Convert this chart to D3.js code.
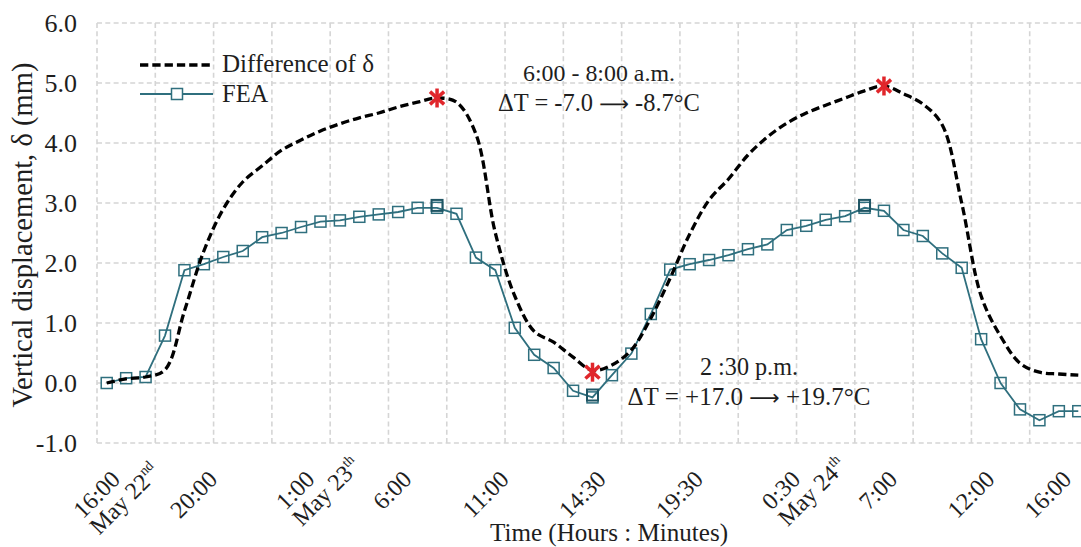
<!DOCTYPE html>
<html><head><meta charset="utf-8">
<script src="https://cdn.jsdelivr.net/npm/d3@7"></script>
<style>
html,body{margin:0;padding:0;background:#fff;}
svg{display:block;}
svg text{font-family:"Liberation Serif","Times New Roman","DejaVu Serif",serif;}
</style></head>
<body>
<svg id="chart" width="1081" height="547"></svg>
<script>
// ---- data ----
const categories = d3.range(51);
const tickIndex = [0,5,10,15,20,25,30,35,40,45,50];
const tickLine1 = ["16:00","20:00","1:00","6:00","11:00","14:30","19:30","0:30","7:00","12:00","16:00"];
const tickLine2 = ["May 22","","May 23","","","","","May 24","","","",""];
const tickSup   = ["nd","","th","","","","","th","","","",""];
const yTicks = [-1,0,1,2,3,4,5,6];
const feaValues = [0.0,0.08,0.1,0.79,1.88,1.98,2.1,2.2,2.43,2.5,
  2.6,2.69,2.71,2.77,2.81,2.85,2.92,2.92,2.82,2.09,
  1.88,0.92,0.47,0.25,-0.13,-0.24,0.13,0.49,1.15,1.89,
  1.98,2.05,2.13,2.23,2.31,2.55,2.62,2.72,2.78,2.92,
  2.87,2.55,2.45,2.16,1.92,0.73,0.0,-0.44,-0.62,-0.47,-0.47];
const diffValues = [0.0,0.07,0.1,0.22,1.2,2.2,2.9,3.35,3.62,3.88,
  4.05,4.2,4.32,4.42,4.5,4.6,4.68,4.75,4.68,4.15,
  2.5,1.45,0.86,0.68,0.43,0.21,0.3,0.55,1.08,1.75,
  2.48,3.05,3.4,3.8,4.1,4.33,4.5,4.63,4.75,4.87,
  4.95,4.82,4.65,4.3,3.0,1.45,0.78,0.33,0.18,0.15,0.13];
const peakIndex = [17,25,39];
const peakValues = [2.96,-0.2,2.96];
const starIndex = [17,25,40];
const starValues = [4.75,0.18,4.95];
const notes = [
  ["6:00 - 8:00 a.m."],
  ["ΔT = -7.0 ", "⟶", " -8.7°C"],
  ["2 :30 p.m."],
  ["ΔT = +17.0 ", "⟶", " +19.7°C"]
];

// ---- setup ----
const FONT = "'Liberation Serif','Times New Roman','DejaVu Serif',serif";
const TXT = "#1e1e1e";
const svg = d3.select("#chart");
const pLeft = 97, pRight = 1088, pTop = 23, pBottom = 443;
const x = d3.scaleBand().domain(categories).range([pLeft,pRight]).padding(0);
const xc = i => x(i) + x.bandwidth()/2;
const y = d3.scaleLinear().domain([-1,6]).range([pBottom,pTop]);

function fit(sel, target){
  const fs = parseFloat(sel.attr("font-size"));
  const w = sel.node().getComputedTextLength();
  if (w>0) sel.attr("font-size", (fs*target/w).toFixed(2));
  return sel;
}

const teal = "#2f6f7e";
const gridCol = "#d5d5d5";

// grid
const g = svg.append("g");
g.selectAll(".hg").data(yTicks).join("line")
  .attr("x1",pLeft).attr("x2",pRight).attr("y1",d=>y(d)).attr("y2",d=>y(d))
  .attr("stroke",gridCol).attr("stroke-width",1.6).attr("stroke-dasharray","5,3.3");
const vIdx = d3.range(0,52,3);
g.selectAll(".vg").data(vIdx).join("line")
  .attr("x1",d=> d<51 ? x(d) : pRight).attr("x2",d=> d<51 ? x(d) : pRight)
  .attr("y1",pTop).attr("y2",pBottom)
  .attr("stroke",gridCol).attr("stroke-width",1.6).attr("stroke-dasharray","5,3.3");

// y axis
const yAxis = d3.axisLeft(y).tickValues(yTicks).tickFormat(d=>d.toFixed(1)).tickSize(0).tickPadding(0);
const ya = svg.append("g").attr("transform",`translate(77,0)`).call(yAxis);
ya.attr("font-family",FONT).attr("font-size",26);
ya.select(".domain").remove();
ya.selectAll("text").attr("font-family",FONT).attr("font-size",26).attr("fill",TXT).attr("dy","0.34em");

fit(svg.append("text").attr("transform",`translate(32,235) rotate(-90)`)
  .attr("text-anchor","middle").attr("font-size",26).attr("font-family",FONT).attr("fill",TXT)
  .text("Vertical displacement, δ (mm)"), 345);

// x tick labels
const XFS = 24;
const xl = svg.append("g");
tickIndex.forEach((idx,k)=>{
  const px = Math.min(xc(idx), 1058), py = 466;
  const t = xl.append("g").attr("transform",`translate(${px},${py}) rotate(-45)`);
  const l1 = t.append("text").attr("x",0).attr("y",21).attr("text-anchor","end")
    .attr("font-size",XFS).attr("font-family",FONT).attr("fill",TXT).text(tickLine1[k]);
  if (tickLine2[k]) {
    const w1 = l1.node().getComputedTextLength();
    const l2 = t.append("text").attr("x",-w1).attr("y",44).attr("text-anchor","start")
      .attr("font-size",XFS).attr("font-family",FONT).attr("fill",TXT);
    l2.append("tspan").text(tickLine2[k]);
    l2.append("tspan").attr("font-size",14).attr("dy",-10).text(tickSup[k]);
  }
});
fit(svg.append("text").attr("x",609).attr("y",541).attr("text-anchor","middle").attr("font-size",25)
  .attr("font-family",FONT).attr("fill",TXT).text("Time (Hours : Minutes)"), 238);

// FEA line
const line = d3.line().x((d,i)=>xc(i)).y(d=>y(d));
svg.append("path").datum(feaValues).attr("d",line).attr("fill","none").attr("stroke",teal).attr("stroke-width",1.8);
const ms = 11;
svg.selectAll(".fm").data(feaValues).join("rect")
  .attr("x",(d,i)=>xc(i)-ms/2).attr("y",d=>y(d)-ms/2).attr("width",ms).attr("height",ms)
  .attr("fill","none").attr("stroke",teal).attr("stroke-width",1.5);
svg.selectAll(".pm").data(peakValues).join("rect")
  .attr("x",(d,i)=>xc(peakIndex[i])-ms/2).attr("y",d=>y(d)-ms/2).attr("width",ms).attr("height",ms)
  .attr("fill","none").attr("stroke","#1f5564").attr("stroke-width",2);

// Difference line
const sline = d3.line().x((d,i)=>xc(i)).y(d=>y(d)).curve(d3.curveCatmullRom.alpha(0.5));
svg.append("path").datum(diffValues).attr("d",sline).attr("fill","none").attr("stroke","#000")
  .attr("stroke-width",3.3).attr("stroke-dasharray","8.3,4");

// stars
const starCol = "#e0262b";
starValues.forEach((v,k)=>{
  const cx = xc(starIndex[k]), cy = y(v), r = 9.5;
  const s = svg.append("g").attr("transform",`translate(${cx},${cy})`).attr("stroke",starCol).attr("stroke-width",3.5).attr("stroke-linecap","butt");
  [90,42,-42].forEach(a=>{
    const rad = a*Math.PI/180;
    s.append("line").attr("x1",-r*Math.cos(rad)).attr("y1",-r*Math.sin(rad)).attr("x2",r*Math.cos(rad)).attr("y2",r*Math.sin(rad));
  });
});

// legend
const lg = svg.append("g");
lg.append("line").attr("x1",140).attr("x2",213).attr("y1",65).attr("y2",65).attr("stroke","#000").attr("stroke-width",3.3).attr("stroke-dasharray","8.3,4");
fit(lg.append("text").attr("x",222).attr("y",72).attr("font-size",24.5).attr("font-family",FONT).attr("fill",TXT).text("Difference of δ"),152);
lg.append("line").attr("x1",140).attr("x2",213).attr("y1",94).attr("y2",94).attr("stroke",teal).attr("stroke-width",1.8);
lg.append("rect").attr("x",177-ms/2).attr("y",94-ms/2).attr("width",ms).attr("height",ms).attr("fill","#fff").attr("stroke",teal).attr("stroke-width",1.5);
lg.append("text").attr("x",222).attr("y",102).attr("font-size",24.5).attr("font-family",FONT).attr("fill",TXT).text("FEA");

// annotations
function note(parts, cx, by, w){
  const t = svg.append("text").attr("x",cx).attr("y",by).attr("text-anchor","middle").attr("font-size",24)
    .attr("font-family",FONT).attr("fill",TXT);
  parts.forEach(p=>{
    const ts = t.append("tspan").text(p);
    if (p === "⟶") ts.attr("font-family","'DejaVu Sans',sans-serif").attr("font-size","0.85em");
  });
  return fit(t, w);
}
note(notes[0], 599, 81, 152);
note(notes[1], 599, 111, 202);
note(notes[2], 749, 375, 98);
note(notes[3], 749, 405, 243);
</script>
</body></html>
